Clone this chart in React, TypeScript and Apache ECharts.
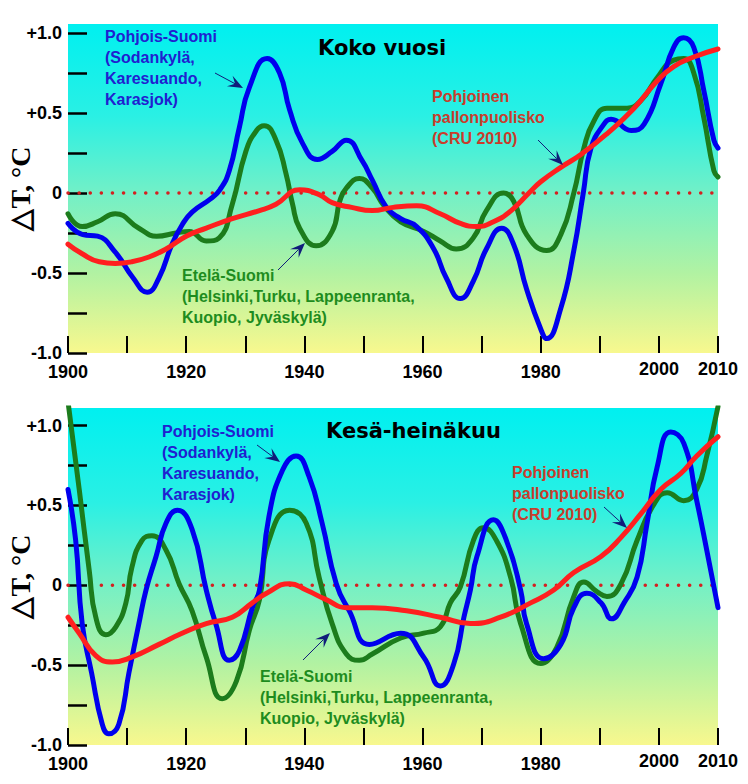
import React, { useEffect, useRef } from "react";
import * as echarts from "echarts";

// ---------- Data ----------
// Top panel: "Koko vuosi" (whole year)
const topNorthYears = [1900, 1902.5, 1905, 1908, 1911, 1913.4, 1915.4, 1917.6, 1919.3, 1921, 1924, 1925.7, 1927.3, 1929, 1930.7, 1933.7, 1935.8, 1937.5, 1939.7, 1942.2, 1944.7, 1947.1, 1949.8, 1951.5, 1953.9, 1956.3, 1959, 1961.9, 1964, 1966.4, 1968.6, 1970.8, 1973.4, 1975.4, 1977.6, 1980, 1981, 1983.4, 1985.6, 1987.2, 1988.5, 1990.7, 1991.9, 1995.3, 1997.5, 2000.3, 2002.5, 2004.2, 2005.9, 2007.6, 2009.3, 2010];
const topNorthValues = [-0.19, -0.26, -0.27, -0.37, -0.53, -0.62, -0.53, -0.32, -0.2, -0.12, -0.04, 0.02, 0.14, 0.41, 0.66, 0.84, 0.75, 0.52, 0.31, 0.21, 0.26, 0.33, 0.2, 0.08, -0.09, -0.16, -0.21, -0.35, -0.53, -0.66, -0.55, -0.35, -0.22, -0.32, -0.6, -0.85, -0.91, -0.72, -0.36, 0.0, 0.28, 0.43, 0.46, 0.39, 0.43, 0.68, 0.91, 0.97, 0.91, 0.64, 0.33, 0.28];

const topSouthYears = [1900, 1902.4, 1905, 1908, 1912, 1915, 1918.3, 1920.5, 1923.4, 1925.6, 1927.8, 1930.1, 1931.9, 1933.2, 1935.2, 1936.9, 1938, 1939.2, 1942, 1944.7, 1946, 1947.1, 1949.3, 1951.5, 1953.5, 1956.3, 1960.2, 1963, 1965.7, 1968.6, 1970.8, 1973.7, 1975.4, 1977.6, 1981, 1983.4, 1985.6, 1987.3, 1989, 1991.2, 1994.6, 1997, 1999.7, 2002.5, 2004.2, 2005.9, 2007.6, 2009.3, 2010];
const topSouthValues = [-0.13, -0.21, -0.18, -0.13, -0.22, -0.27, -0.25, -0.24, -0.3, -0.28, -0.07, 0.26, 0.39, 0.42, 0.33, 0.12, -0.07, -0.22, -0.33, -0.24, -0.05, 0.03, 0.09, 0.03, -0.08, -0.18, -0.24, -0.3, -0.35, -0.28, -0.11, 0.0, -0.05, -0.26, -0.36, -0.26, 0.0, 0.28, 0.45, 0.53, 0.53, 0.58, 0.72, 0.83, 0.84, 0.75, 0.47, 0.14, 0.1];

const topCruYears = [1900, 1902.4, 1905.3, 1908, 1910.8, 1913.7, 1916.6, 1920, 1923.4, 1927.8, 1932.4, 1935.2, 1939.2, 1942.5, 1944.7, 1948, 1951.5, 1955, 1959, 1963, 1966.4, 1969.2, 1972, 1975, 1978, 1980, 1983.4, 1986.8, 1991.2, 1995.8, 1999.7, 2002.5, 2005.9, 2010];
const topCruValues = [-0.32, -0.38, -0.43, -0.44, -0.43, -0.4, -0.35, -0.27, -0.22, -0.16, -0.11, -0.07, 0.02, -0.01, -0.06, -0.09, -0.11, -0.09, -0.08, -0.13, -0.19, -0.21, -0.18, -0.11, 0.0, 0.07, 0.16, 0.24, 0.37, 0.53, 0.7, 0.79, 0.85, 0.9];

// Bottom panel: "Kesä-heinäkuu" (June-July)
const botNorthYears = [1900, 1901.3, 1902.4, 1904, 1905.8, 1906.9, 1908.6, 1910.3, 1912, 1913.2, 1914.9, 1916.6, 1918.5, 1921, 1923.4, 1925, 1927.3, 1929, 1931.2, 1932.4, 1934, 1936.3, 1938.6, 1940.8, 1943, 1945.4, 1947.6, 1951, 1956.3, 1960.2, 1963, 1965.3, 1967, 1968.1, 1969.2, 1972, 1974.2, 1976.6, 1977.6, 1980.5, 1983.4, 1985.6, 1987.8, 1990.2, 1992, 1994.1, 1996.3, 1998, 1999.7, 2002, 2004.2, 2006.4, 2008.1, 2010];
const botNorthValues = [0.6, 0.28, -0.24, -0.55, -0.87, -0.93, -0.87, -0.55, -0.24, -0.03, 0.18, 0.39, 0.47, 0.35, -0.03, -0.24, -0.47, -0.41, -0.14, -0.03, 0.43, 0.72, 0.81, 0.68, 0.39, 0.01, -0.16, -0.37, -0.3, -0.45, -0.63, -0.49, -0.2, -0.03, 0.18, 0.41, 0.28, -0.03, -0.24, -0.46, -0.37, -0.14, -0.05, -0.11, -0.21, -0.11, 0.05, 0.39, 0.74, 0.96, 0.89, 0.53, 0.22, -0.14];

const botSouthYears = [1900, 1901.9, 1903.6, 1904.7, 1906.4, 1908.1, 1909.8, 1910.8, 1912.5, 1914.2, 1916.6, 1918.8, 1921, 1923.4, 1926.1, 1928.5, 1930.7, 1932.4, 1934, 1937.5, 1940.3, 1942.5, 1944.7, 1947.1, 1949.3, 1951.5, 1956.3, 1960.2, 1963, 1964.7, 1966.4, 1968.6, 1970.3, 1972.5, 1974.9, 1976.6, 1980, 1982.7, 1985.6, 1987.3, 1989.5, 1991.2, 1993.6, 1996.3, 1999.2, 2001.4, 2004.2, 2006.4, 2008.1, 2010];
const botSouthValues = [1.15, 0.6, 0.09, -0.2, -0.31, -0.26, -0.11, 0.11, 0.28, 0.31, 0.22, 0.01, -0.16, -0.45, -0.71, -0.6, -0.28, -0.09, 0.28, 0.47, 0.39, 0.05, -0.24, -0.43, -0.47, -0.43, -0.33, -0.3, -0.26, -0.11, -0.01, 0.28, 0.36, 0.28, 0.05, -0.24, -0.49, -0.39, -0.07, 0.02, -0.04, -0.07, 0.01, 0.28, 0.51, 0.58, 0.53, 0.6, 0.81, 1.12];

const botCruYears = [1900, 1901.9, 1904.7, 1907.5, 1910.8, 1915.4, 1919.3, 1923.4, 1927.8, 1931.2, 1933.6, 1937.5, 1940.3, 1943.7, 1947.1, 1951.5, 1957.3, 1963, 1968.1, 1973.2, 1978.3, 1982.2, 1985.6, 1990.2, 1993.6, 1997, 2000.3, 2003.7, 2006.4, 2010];
const botCruValues = [-0.2, -0.3, -0.44, -0.48, -0.45, -0.37, -0.3, -0.24, -0.2, -0.11, -0.05, 0.01, -0.03, -0.09, -0.14, -0.14, -0.16, -0.2, -0.24, -0.2, -0.11, -0.03, 0.08, 0.18, 0.3, 0.45, 0.6, 0.7, 0.81, 0.93];

const zeroLineYears = [1900, 2010];
const zeroLineValues = [0, 0];

const xTickValues = [1900, 1910, 1920, 1930, 1940, 1950, 1960, 1970, 1980, 1990, 2000, 2010];
const xLabelValues = [1900, 1920, 1940, 1960, 1980, 2000, 2010];
const yTickValues = [-1, -0.75, -0.5, -0.25, 0, 0.25, 0.5, 0.75, 1];
const yLabelValues = [-1, -0.5, 0, 0.5, 1];
const yLabelTexts = ["-1.0", "-0.5", "0", "+0.5", "+1.0"];

const panelTitles = ["Koko vuosi", "Kesä-heinäkuu"];
const northLabel = "Pohjois-Suomi\n(Sodankylä,\nKaresuando,\nKarasjok)";
const southLabel = "Etelä-Suomi\n(Helsinki,Turku, Lappeenranta,\nKuopio, Jyväskylä)";
const cruLabel = "Pohjoinen\npallonpuolisko\n(CRU 2010)";
const yAxisName = "△T, °C";

// ---------- Styling ----------
const BLUE = "#0000ee";
const GREEN = "#1c7c1c";
const RED = "#ff1f1f";
const BLUE_TEXT = "#2020d0";
const GREEN_TEXT = "#1e8c1e";
const RED_TEXT = "#c83c2c";
const ARROW = "#101c7a";
const SANS = '"Liberation Sans", Arial, sans-serif';

const zip = (xs: number[], ys: number[]) => xs.map((x, i) => [x, ys[i]]);

function makeBg() {
  return new echarts.graphic.LinearGradient(0, 0, 0, 1, [
    { offset: 0, color: "#00f0f0" },
    { offset: 0.28, color: "#2af0e4" },
    { offset: 0.52, color: "#74f0c6" },
    { offset: 0.76, color: "#b2f2a2" },
    { offset: 1, color: "#f8f88e" },
  ]);
}

function arrow(x1: number, y1: number, x2: number, y2: number) {
  const dx = x2 - x1;
  const dy = y2 - y1;
  const L = Math.hypot(dx, dy);
  const ux = dx / L;
  const uy = dy / L;
  const px = -uy;
  const py = ux;
  const hl = 15;
  const hw = 6;
  const notch = 9;
  const bx = x2 - ux * hl;
  const by = y2 - uy * hl;
  const nx = x2 - ux * notch;
  const ny = y2 - uy * notch;
  return [
    {
      type: "line",
      shape: { x1, y1, x2: nx, y2: ny },
      style: { stroke: ARROW, lineWidth: 1 },
      z: 100,
    },
    {
      type: "polygon",
      shape: {
        points: [
          [x2, y2],
          [bx + px * hw, by + py * hw],
          [nx, ny],
          [bx - px * hw, by - py * hw],
        ],
      },
      style: { fill: ARROW },
      z: 100,
    },
  ];
}

function label(text: string, x: number, y: number, color: string) {
  return {
    type: "text",
    x,
    y,
    z: 100,
    style: {
      text,
      fill: color,
      fontFamily: SANS,
      fontWeight: "bold",
      fontSize: 16,
      lineHeight: 21,
      verticalAlign: "top",
      align: "left",
    },
  };
}

function title(text: string, x: number, y: number) {
  return {
    type: "text",
    x,
    y,
    z: 100,
    style: {
      text,
      fill: "#000",
      fontFamily: '"DejaVu Sans", Verdana, sans-serif',
      fontWeight: "bold",
      fontSize: 21,
      verticalAlign: "middle",
      align: "left",
    },
  };
}

function xAxisFor(gridIndex: number) {
  return {
    type: "value",
    gridIndex,
    min: 1900,
    max: 2010,
    axisLine: { show: false, onZero: false },
    splitLine: { show: false },
    axisTick: {
      show: true,
      inside: true,
      length: 17,
      customValues: xTickValues,
      lineStyle: { color: "#000", width: 2 },
    },
    axisLabel: {
      customValues: xLabelValues,
      margin: 10,
      color: "#000",
      fontFamily: SANS,
      fontWeight: "bold",
      fontSize: 18,
      formatter: (v: number) => (v >= 2000 ? `{r|${v}}` : `{n|${v}}`),
      rich: {
        n: { fontFamily: SANS, fontWeight: "bold", fontSize: 18, lineHeight: 18, color: "#000" },
        r: { fontFamily: SANS, fontWeight: "bold", fontSize: 18, lineHeight: 12, color: "#000" },
      },
    },
  };
}

function yAxisFor(gridIndex: number, max: number) {
  return {
    type: "value",
    gridIndex,
    min: -1,
    max,
    axisLine: { show: false, onZero: false },
    splitLine: { show: false },
    axisTick: {
      show: true,
      inside: true,
      length: 19,
      customValues: yTickValues,
      lineStyle: { color: "#000", width: 2.5 },
    },
    axisLabel: {
      customValues: yLabelValues,
      margin: 6,
      color: "#000",
      fontFamily: SANS,
      fontWeight: "bold",
      fontSize: 18,
      formatter: (v: number) => {
        const i = yLabelValues.findIndex((t) => Math.abs(t - v) < 1e-6);
        return i >= 0 ? yLabelTexts[i] : "";
      },
    },
    name: yAxisName,
    nameLocation: "middle",
    nameRotate: 90,
    nameGap: 34,
    nameMoveOverlap: false,
    nameTextStyle: {
      fontFamily: '"Liberation Serif", "Times New Roman", serif',
      fontWeight: "bold",
      fontSize: 28,
      color: "#000",
    },
  };
}

function curve(name: string, idx: number, xs: number[], ys: number[], color: string) {
  return {
    name,
    type: "line",
    xAxisIndex: idx,
    yAxisIndex: idx,
    data: zip(xs, ys),
    smooth: 0.5,
    showSymbol: false,
    symbol: "none",
    clip: true,
    lineStyle: { color, width: 5, cap: "round", join: "round" },
  };
}

function zeroLine(idx: number) {
  return {
    name: "zero",
    type: "line",
    xAxisIndex: idx,
    yAxisIndex: idx,
    data: zip(zeroLineYears, zeroLineValues),
    showSymbol: false,
    symbol: "none",
    lineStyle: { color: "#d42020", width: 3.5, type: [0.1, 11], cap: "round" },
  };
}

export default function App() {
  const ref = useRef<HTMLDivElement>(null);

  useEffect(() => {
    if (!ref.current) return;
    const chart = echarts.init(ref.current, undefined, { renderer: "svg" });
    const gridBase = { left: 68, width: 650, show: true, borderWidth: 0, containLabel: false, outerBoundsMode: "none" };
    const option = {
      animation: false,
      backgroundColor: "#fff",
      grid: [
        { ...gridBase, top: 24, height: 329, backgroundColor: makeBg() },
        { ...gridBase, top: 408, height: 337, backgroundColor: makeBg() },
      ],
      xAxis: [xAxisFor(0), xAxisFor(1)],
      yAxis: [yAxisFor(0, 1.056), yAxisFor(1, 1.11)],
      series: [
        zeroLine(0),
        curve("Etelä-Suomi", 0, topSouthYears, topSouthValues, GREEN),
        curve("Pohjois-Suomi", 0, topNorthYears, topNorthValues, BLUE),
        curve("CRU", 0, topCruYears, topCruValues, RED),
        zeroLine(1),
        curve("Etelä-Suomi", 1, botSouthYears, botSouthValues, GREEN),
        curve("Pohjois-Suomi", 1, botNorthYears, botNorthValues, BLUE),
        curve("CRU", 1, botCruYears, botCruValues, RED),
      ],
      graphic: [
        title(panelTitles[0], 318, 48),
        title(panelTitles[1], 326, 431),
        label(northLabel, 105, 26, BLUE_TEXT),
        label(cruLabel, 432, 86, RED_TEXT),
        label(southLabel, 182, 265, GREEN_TEXT),
        label(northLabel, 162, 421, BLUE_TEXT),
        label(cruLabel, 512, 462, RED_TEXT),
        label(southLabel, 260, 666, GREEN_TEXT),
        ...arrow(215, 73, 243, 88),
        ...arrow(538, 140, 563, 165),
        ...arrow(278, 270, 305, 243),
        ...arrow(257, 445, 280, 462),
        ...arrow(604, 507, 627, 528),
        ...arrow(303, 660, 330, 633),
      ],
    };
    chart.setOption(option as any);
    return () => chart.dispose();
  }, []);

  return (
    <div
      ref={ref}
      style={{ position: "absolute", left: 0, top: 0, width: 748, height: 784 }}
    />
  );
}
